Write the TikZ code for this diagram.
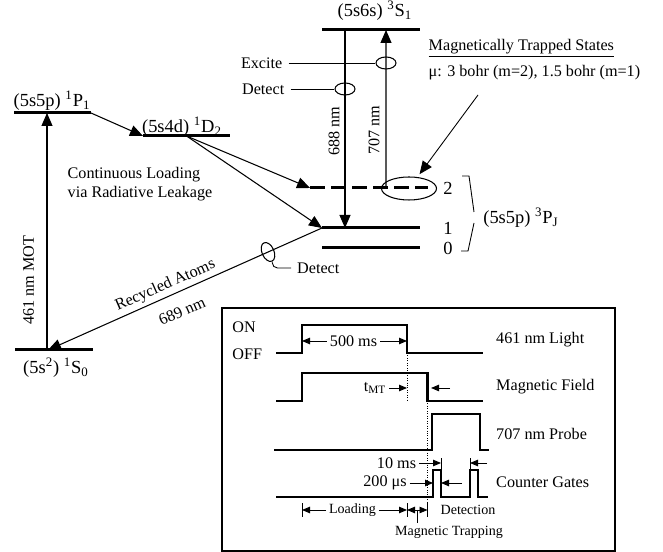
\documentclass[tikz,border=0pt]{standalone}
\usepackage{fontspec}
\setmainfont{Liberation Serif}
\usetikzlibrary{arrows.meta, calc, shapes.geometric}
\tikzset{
  level/.style={line width=1.7pt},
  state/.style={font=\fontsize{10.5}{12}\selectfont},
  link/.style={-{Triangle[length=2.6mm, width=2.2mm]}, line width=0.6pt},
  ring/.style={draw, ellipse, line width=0.6pt, minimum width=0.40cm, minimum height=0.24cm, inner sep=0pt},
  lead/.style={line width=0.5pt},
  panel/.style={draw, line width=0.9pt, minimum width=7.86cm, minimum height=4.86cm},
  signal/.style={line width=1.2pt},
  span/.style={-{Triangle[length=1.6mm, width=1.3mm]}, line width=0.5pt},
  tick/.style={line width=0.5pt},
  guide/.style={densely dotted, line width=0.4pt},
  tlabel/.style={inner sep=1.5pt},
  phase/.style={inner sep=1.5pt, font=\fontsize{8}{9.6}\selectfont}
}
\newcommand{\enlevel}[5][]{%
  \coordinate (#5w) at (#2,#4);
  \coordinate (#5e) at (#3,#4);
  \coordinate (#5) at ($(#5w)!0.5!(#5e)$);
  \draw[level,#1] (#5w) -- (#5e);
}

\begin{document}
\begin{tikzpicture}[font=\fontsize{9.2}{11}\selectfont]
        \useasboundingbox (0,0) rectangle (13.26,11.04);

        % Singlet levels
        \enlevel{0.28}{1.82}{8.78}{p1}
        \enlevel{2.86}{4.60}{8.32}{d2}
        \enlevel{0.30}{1.86}{4.04}{s0}
        % Triplet levels
        \enlevel{6.44}{8.40}{10.44}{s1}
        \enlevel[dash pattern=on 0.30cm off 0.12cm]{6.20}{8.56}{7.28}{j2}
        \enlevel{6.44}{8.40}{6.48}{j1}
        \enlevel{6.44}{8.40}{6.08}{j0}

        % Level labels
        \node[state] (p1lab) at (1.04,9.02) {(5s5p) \textsuperscript{1}P\textsubscript{1}};
        \node[state] (d2lab) at (3.64,8.50) {(5s4d) \textsuperscript{1}D\textsubscript{2}};
        \node[state] (s1lab) at (7.50,10.82) {(5s6s) \textsuperscript{3}S\textsubscript{1}};
        \node[state] (s0lab) at (1.12,3.68) {(5s\textsuperscript{2}) \textsuperscript{1}S\textsubscript{0}};
        \node[state] (j2lab) at (8.96,7.28) {2};
        \node[state] (j1lab) at (8.96,6.48) {1};
        \node[state] (j0lab) at (8.96,6.08) {0};
        \draw[lead] (9.24,7.52) -- (9.38,7.52) -- (9.48,6.80);
        \draw[lead] (9.48,6.58) -- (9.36,6.02) -- (9.22,6.02);
        \node[state] (pjlab) at (10.42,6.68) {(5s5p) \textsuperscript{3}P\textsubscript{J}};

        % Transitions
        \draw[link] ([xshift=0.64cm]s0w) -- ([xshift=0.66cm]p1w);
        \draw[link] (p1e) -- (d2w);
        \draw[link] (d2) -- (j2w);
        \draw[link] (d2) -- (j1w);
        \draw[link] (j1w) -- ([xshift=0.66cm]s0w);
        \draw[link] ([xshift=0.46cm]s1w) -- ([xshift=0.46cm]j1w);
        \draw[link] ([xshift=1.52cm]j2w) -- ([xshift=1.28cm]s1w);

        \node[rotate=90] (motlab) at (0.57,5.44) {461 nm MOT};
        \node[rotate=90] (l688) at (6.68,8.42) {688 nm};
        \node[rotate=90] (l707) at (7.48,8.44) {707 nm};
        \node[rotate=23.7, inner sep=0.5pt] (recyc) at (3.31,5.33) {Recycled Atoms};
        \node[rotate=23.7, inner sep=0.5pt] (l689) at (3.64,4.82) {689 nm};
        \node[anchor=west, align=left] (leak) at (1.23,7.36) {Continuous Loading\\via Radiative Leakage};

        % Excitation and detection
        \node[ring] (exc) at (7.72,9.78) {};
        \node[ring] (det1) at (6.90,9.26) {};
        \node[ring, minimum width=0.24cm, minimum height=0.40cm, rotate=23.7] (det2) at (5.36,6.00) {};
        \node[ring, minimum width=1.10cm, minimum height=0.46cm] (trap) at (8.18,7.27) {};
        \node[anchor=east] (excite) at (5.77,9.78) {Excite};
        \node[anchor=east] (detect1) at (5.81,9.26) {Detect};
        \node[anchor=west] (detect2) at (5.82,5.68) {Detect};
        \draw[lead] (excite) -- (exc);
        \draw[lead] (detect1) -- (det1);
        \draw[lead, rounded corners=3pt] (det2.south) |- (detect2.west);

        % Trapped states
        \node[anchor=west] (trapped) at (8.45,10.08) {\underline{Magnetically Trapped States}};
        \node[anchor=west] (moment) at (8.45,9.58) {μ: 3 bohr (m=2), 1.5 bohr (m=1)};
        \coordinate (trapnote) at (9.56,9.14);
        \draw[link, line width=0.5pt, shorten >=2pt] (trapnote) -- (trap);

        % Timing sequence
        \node[panel] (timing) at (8.37,2.45) {};
        \node[anchor=west, tlabel] (on) at (4.59,4.50) {ON};
        \node[anchor=west, tlabel] (off) at (4.59,3.96) {OFF};

        \coordinate (lon) at (6.04,4.54);
        \coordinate (loff) at (8.14,3.98);
        \coordinate (fon) at (6.04,3.58);
        \coordinate (foff) at (8.55,3.02);
        \coordinate (pon) at (8.64,2.76);
        \coordinate (poff) at (9.60,2.04);
        \coordinate (g1on) at (8.66,1.64);
        \coordinate (g1off) at (8.82,1.10);
        \coordinate (g2on) at (9.40,1.64);
        \coordinate (g2off) at (9.56,1.10);

        \draw[signal] (5.52,3.98) -| (lon) -| (loff) -- (9.66,3.98);
        \draw[signal] (5.52,3.02) -| (fon) -| (foff) -- (9.66,3.02);
        \draw[signal] (5.48,2.04) -| (pon) -| (poff) -- (9.78,2.04);
        \draw[signal] (5.52,1.10) -| (g1on) -| (g1off) -| (g2on) -| (g2off) -- (9.76,1.10);

        \node[anchor=west] (light) at (9.80,4.24) {461 nm Light};
        \node[anchor=west] (field) at (9.80,3.30) {Magnetic Field};
        \node[anchor=west] (probe) at (9.80,2.36) {707 nm Probe};
        \node[anchor=west] (gates) at (9.80,1.39) {Counter Gates};

        % Durations
        \node[tlabel] (d500) at (7.07,4.22) {500 ms};
        \draw[span] (d500.west) -- (d500.west -| lon);
        \draw[span] (d500.east) -- (d500.east -| loff);
        \draw[guide] (loff) -- (loff |- foff);

        \node[tlabel] (tmt) at (7.50,3.28) {t\textsubscript{MT}};
        \draw[span] (tmt.east) -- (tmt.east -| loff);
        \coordinate (tmtr) at (9.00,3.28);
        \draw[span] (tmtr) -- ([xshift=2pt]tmtr -| foff);

        \node[tlabel] (d10) at (7.93,1.78) {10 ms};
        \draw[tick] (g1off |- g1on) -- ++(0,0.24);
        \draw[span] (d10.east) -- (d10.east -| g1off);
        \draw[tick] (g2on) -- ++(0,0.24);
        \coordinate (d10r) at (9.74,1.78);
        \draw[span] (d10r) -- (d10r -| g2on);

        \node[tlabel] (d200) at (7.70,1.38) {200 μs};
        \draw[span] (d200.east) -- (d200.east -| g1on);
        \coordinate (d200r) at (9.24,1.38);
        \draw[span] (d200r) -- (d200r -| g1off);

        % Phases
        \coordinate (m1) at (6.04,0.84);
        \coordinate (m2) at (8.14,0.84);
        \coordinate (m3) at (8.55,0.84);
        \foreach \m in {m1,m2,m3}
          \draw[tick] ([yshift=-0.14cm]\m) -- ([yshift=0.14cm]\m);
        \draw[guide] (foff) -- ([yshift=0.14cm]m3);
        \node[phase] (load) at (7.05,0.84) {Loading};
        \draw[span] (load.west) -- (m1);
        \draw[span] (load.east) -- (m2);
        \coordinate (mtmid) at (8.35,0.84);
        \draw[span] (mtmid) -- (m2);
        \draw[span] (mtmid) -- (m3);
        \node[phase] (detn) at (9.36,0.84) {Detection};
        \node[phase] (mtlab) at (8.98,0.40) {Magnetic Trapping};
        \draw[tick] (mtmid) -- (mtmid |- mtlab.north);
    \end{tikzpicture}
\end{document}
